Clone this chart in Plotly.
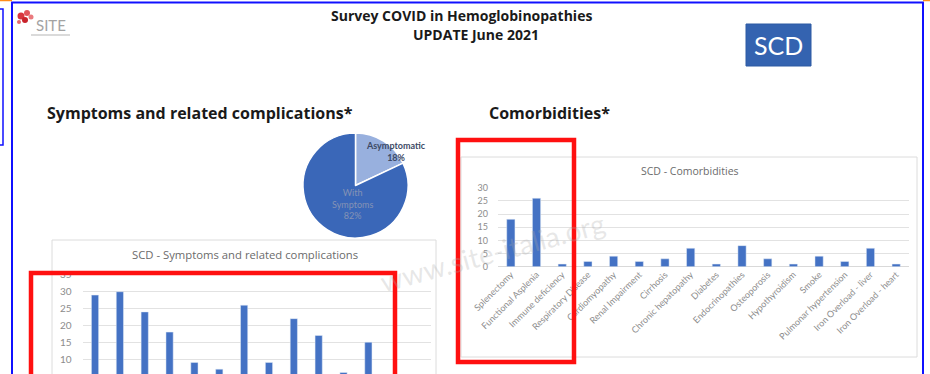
import plotly.graph_objects as go

W, H = 930, 374


def fx(p):
    return p / W


def fy(p):
    return 1 - p / H


# ---- data ----
symptom_cats = ["Fever", "Cough", "Asthenia", "Headache", "Dyspnoea", "Diarrhoea",
                "Myalgia", "Anosmia", "Ageusia", "Sore throat", "Vomiting",
                "Pain crisis", "Acute chest syndrome", "Thrombosis"]
symptom_vals = [29, 30, 24, 18, 9, 7, 26, 9, 22, 17, 6, 15, 2, 1]

comorb_cats = ["Splenectomy", "Functional Asplenia", "Immune deficiency",
               "Respiratory Disease", "Cardiomyopathy", "Renal Impairment",
               "Cirrhosis", "Chronic hepatopathy", "Diabetes", "Endocrinopathies",
               "Osteoporosis", "Hypothyroidism", "Smoke", "Pulmonar hypertension",
               "Iron Overload - liver", "Iron Overload - heart"]
comorb_vals = [18, 26, 1, 2, 4, 2, 3, 7, 1, 8, 3, 1, 4, 2, 7, 1]

pie_labels = ["Asymptomatic", "With Symptoms"]
pie_vals = [18, 82]

BAR = "#4472c4"
GRID = "#e2e2e2"
TICK = "#8c8c8c"
FONT = "Lato"
HEAD = "Open Sans"

fig = go.Figure()

fig.add_trace(go.Bar(x=symptom_cats, y=symptom_vals, marker_color=BAR, width=0.29,
                     xaxis="x", yaxis="y", showlegend=False))
fig.add_trace(go.Bar(x=comorb_cats, y=comorb_vals, marker_color=BAR, width=0.32,
                     xaxis="x2", yaxis="y2", showlegend=False))
fig.add_trace(go.Pie(labels=pie_labels, values=pie_vals, sort=False,
                     direction="clockwise", rotation=0, textinfo="none",
                     marker=dict(colors=["#98b0de", "#3a67b8"],
                                 line=dict(color="white", width=1.5)),
                     domain=dict(x=[fx(303), fx(408)], y=[fy(238), fy(133)]),
                     showlegend=False, hoverinfo="label+percent"))

# left chart: zero lies just below the visible page, so the range starts there
l_top, l_zero, l_scale = 274.9, 392.7, (392.7 - 274.9) / 35
l_min = (l_zero - H) / l_scale

fig.update_layout(
    width=W, height=H, margin=dict(l=0, r=0, t=0, b=0),
    paper_bgcolor="white", plot_bgcolor="rgba(0,0,0,0)",
    font=dict(family=FONT, color="#595959"),
    xaxis=dict(domain=[fx(82.6), fx(430.5)], range=[-0.5, len(symptom_cats) - 0.5],
               anchor="y", showticklabels=False, showgrid=False, zeroline=False,
               showline=False, ticks="", automargin=False, fixedrange=True),
    yaxis=dict(domain=[0, fy(l_top)], range=[l_min, 35], dtick=5, tick0=0,
               anchor="x", gridcolor=GRID, gridwidth=1, zeroline=False, showline=False,
               tickfont=dict(size=10, color=TICK, family=FONT), ticklabelstandoff=10,
               automargin=False, fixedrange=True),
    xaxis2=dict(domain=[fx(498), fx(909)], range=[-0.5, len(comorb_cats) - 0.5],
                anchor="y2", tickangle=-45,
                tickfont=dict(size=9, color=TICK, family=FONT),
                showgrid=False, zeroline=False, showline=False, ticks="",
                automargin=False, fixedrange=True),
    yaxis2=dict(domain=[fy(266.7), fy(187.7)], range=[0, 30], dtick=5,
                anchor="x2", gridcolor=GRID, gridwidth=1, zeroline=True,
                zerolinecolor="#d9d9d9", zerolinewidth=1, showline=False,
                tickfont=dict(size=9, color=TICK, family=FONT), ticklabelstandoff=9,
                automargin=False, fixedrange=True),
)

shapes = []
# chart boxes
shapes.append(dict(type="rect", xref="paper", yref="paper", layer="below",
                   x0=fx(52), x1=fx(436), y0=fy(400), y1=fy(240),
                   line=dict(color="#dcdcdc", width=1), fillcolor="white"))
shapes.append(dict(type="rect", xref="paper", yref="paper", layer="below",
                   x0=fx(461), x1=fx(917), y0=fy(357), y1=fy(157),
                   line=dict(color="#dcdcdc", width=1), fillcolor="white"))
# SCD badge
shapes.append(dict(type="rect", xref="paper", yref="paper", layer="below",
                   x0=fx(746), x1=fx(811), y0=fy(66), y1=fy(24),
                   line=dict(color="#2c5aa3", width=1), fillcolor="#3463b0"))
# logo dots
for cx, cy, r, c in [(21, 16, 3.5, "#d9363e"), (27, 13, 3, "#e2555b"),
                     (25, 20, 3, "#c8232b"), (31, 17, 2.5, "#ea7a7e"),
                     (19, 22, 2, "#e4686c")]:
    shapes.append(dict(type="circle", xref="paper", yref="paper", layer="below",
                       x0=fx(cx - r), x1=fx(cx + r), y0=fy(cy + r), y1=fy(cy - r),
                       line=dict(width=0), fillcolor=c))
shapes.append(dict(type="line", xref="paper", yref="paper", layer="below",
                   x0=fx(31), x1=fx(70), y0=fy(35), y1=fy(35),
                   line=dict(color="#b5b5b5", width=1)))
# highlight boxes
shapes.append(dict(type="rect", xref="paper", yref="paper", layer="above",
                   x0=fx(31), x1=fx(395), y0=fy(390), y1=fy(273),
                   line=dict(color="#ff1010", width=4.5)))
shapes.append(dict(type="rect", xref="paper", yref="paper", layer="above",
                   x0=fx(458), x1=fx(574), y0=fy(362), y1=fy(140),
                   line=dict(color="#ff1010", width=4.5)))
# page frame
shapes.append(dict(type="rect", xref="paper", yref="paper", layer="above",
                   x0=fx(12), x1=fx(923), y0=fy(390), y1=fy(2.5),
                   line=dict(color="#1010ff", width=2)))
shapes.append(dict(type="rect", xref="paper", yref="paper", layer="above",
                   x0=fx(-10), x1=fx(3), y0=fy(145), y1=fy(9),
                   line=dict(color="#1010ff", width=1.5)))
shapes.append(dict(type="line", xref="paper", yref="paper", layer="above",
                   x0=fx(0), x1=fx(12), y0=fy(0.5), y1=fy(0.5),
                   line=dict(color="#ff8c1a", width=1.5)))
shapes.append(dict(type="line", xref="paper", yref="paper", layer="above",
                   x0=fx(923), x1=fx(930), y0=fy(0.5), y1=fy(0.5),
                   line=dict(color="#ff8c1a", width=1.5)))
fig.update_layout(shapes=shapes)


def note(text, x, y, size, color="#1a1a1a", xanchor="center", bold=False, angle=0,
         family=FONT):
    return dict(text=f"<b>{text}</b>" if bold else text, x=fx(x), y=fy(y),
                xref="paper", yref="paper", xanchor=xanchor, yanchor="middle",
                showarrow=False, textangle=angle, borderpad=0,
                font=dict(size=size, color=color, family=family))


ann = [
    note("Survey COVID in Hemoglobinopathies", 461, 16, 14, bold=True, family=HEAD),
    note("UPDATE June 2021", 476, 34, 14, bold=True, family=HEAD),
    note("SCD", 778.5, 45, 25, color="white"),
    note("SITE", 51, 25, 15, color="#a3a3a3"),
    note("Symptoms and related complications*", 46, 113, 16, xanchor="left", bold=True,
         family=HEAD),
    note("Comorbidities*", 488, 113, 16, xanchor="left", bold=True, family=HEAD),
    note("SCD - Symptoms and related complications", 245, 255, 11.3, color="#6b6b6b",
         family=HEAD),
    note("SCD - Comorbidities", 690, 171, 10.5, color="#6b6b6b", family=HEAD),
    note(f"{pie_labels[0]}<br>{pie_vals[0]}%", 396, 151, 9, color="#3d4a66", bold=True),
    note(f"With<br>Symptoms<br>{pie_vals[1]}%", 352, 204, 9, color="#8593b5"),
    note("www.site-italia.org", 492, 252, 28, color="rgba(170,170,170,0.28)", angle=-15),
]
fig.update_layout(annotations=ann)

fig.write_html("out.html")
